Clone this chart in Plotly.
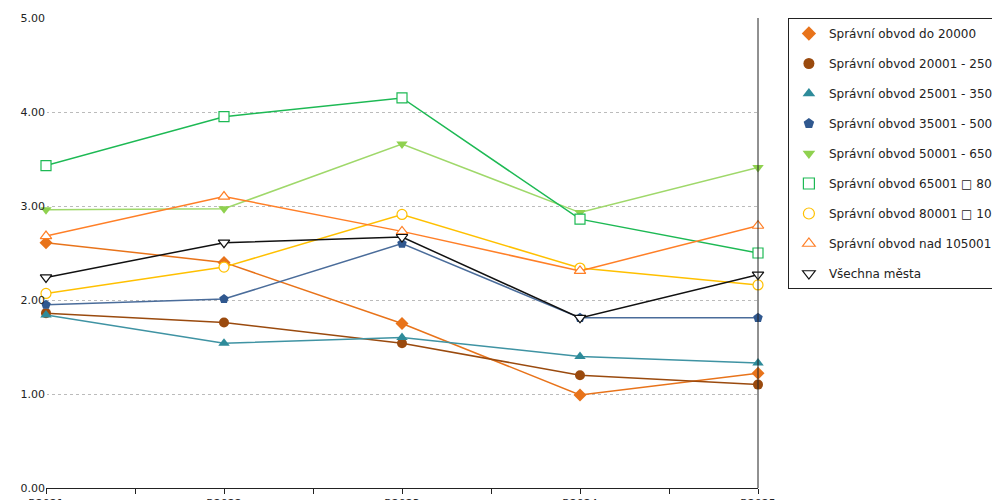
import plotly.graph_objects as go

years = ["R2021", "R2022", "R2023", "R2024", "R2025"]
names = ["Správní obvod do 20000", "Správní obvod 20001 - 25000", "Správní obvod 25001 - 35000",
         "Správní obvod 35001 - 50000", "Správní obvod 50001 - 65000", "Správní obvod 65001 □ 80000",
         "Správní obvod 80001 □ 105000", "Správní obvod nad 105001", "Všechna města"]
s1 = [2.61, 2.40, 1.75, 0.99, 1.22]
s2 = [1.86, 1.76, 1.54, 1.20, 1.10]
s3 = [1.84, 1.54, 1.60, 1.40, 1.33]
s4 = [1.95, 2.01, 2.60, 1.81, 1.81]
s5 = [2.96, 2.97, 3.66, 2.93, 3.41]
s6 = [3.43, 3.95, 4.15, 2.86, 2.50]
s7 = [2.07, 2.35, 2.91, 2.34, 2.16]
s8 = [2.68, 3.10, 2.73, 2.31, 2.79]
s9 = [2.24, 2.61, 2.67, 1.81, 2.27]
series = [s1, s2, s3, s4, s5, s6, s7, s8, s9]
colors = ["#e8731a", "#9a4a0e", "#2e8b9a", "#30588f", "#8fd14f", "#1db954", "#ffc000", "#ff7f27", "#111111"]
lines = ["#e8731a", "#9a4a0e", "#3f93a3", "#4a6c9a", "#9fd86a", "#1db954", "#ffc000", "#ff7f27", "#111111"]
symbols = ["diamond", "circle", "triangle-up", "pentagon", "triangle-down", "square",
           "circle", "triangle-up", "triangle-down"]
opens = [False] * 5 + [True] * 4

x = list(range(len(years)))
fig = go.Figure()
for i, (n, s, c, lc, sym, op) in enumerate(zip(names, series, colors, lines, symbols, opens)):
    mk = dict(symbol=sym, size=10, color="white" if op else c, line=dict(color=c, width=1.2 if op else 0))
    fig.add_trace(go.Scatter(x=x, y=s, name=n, mode="lines+markers", showlegend=False,
                             cliponaxis=False, line=dict(color=lc, width=1.5), marker=mk))
    fig.add_trace(go.Scatter(x=[None], y=[None], name=n, mode="markers", legendgroup=str(i),
                             marker=dict(mk, size=11)))

fig.update_layout(
    width=1000, height=500, plot_bgcolor="white", paper_bgcolor="white",
    margin=dict(l=38, r=250, t=10, b=20, autoexpand=False),
    font=dict(family="DejaVu Sans", size=12, color="#222"),
    legend=dict(x=1.042, y=1.0, xanchor="left", yanchor="top", bordercolor="#222", borderwidth=1,
                font=dict(size=12), tracegroupgap=11, itemwidth=30),
    xaxis=dict(range=[0, 4], tickvals=x, ticktext=years, showgrid=False, showline=True,
               linecolor="#222", ticks="outside", ticklen=5, tickcolor="#222",
               minor=dict(tickvals=[0.5, 1.5, 2.5, 3.5], ticks="outside", ticklen=5, tickcolor="#222"),
               tickfont=dict(size=11)),
    yaxis=dict(range=[0, 5], dtick=1, tickformat=".2f", showgrid=True, gridcolor="#bbb",
               griddash="dot", showline=False, zeroline=False, tickfont=dict(size=11)),
)
fig.add_shape(type="line", xref="paper", yref="paper", x0=1, x1=1, y0=0, y1=1,
              line=dict(color="#222", width=1))
fig.write_html("out.html")
